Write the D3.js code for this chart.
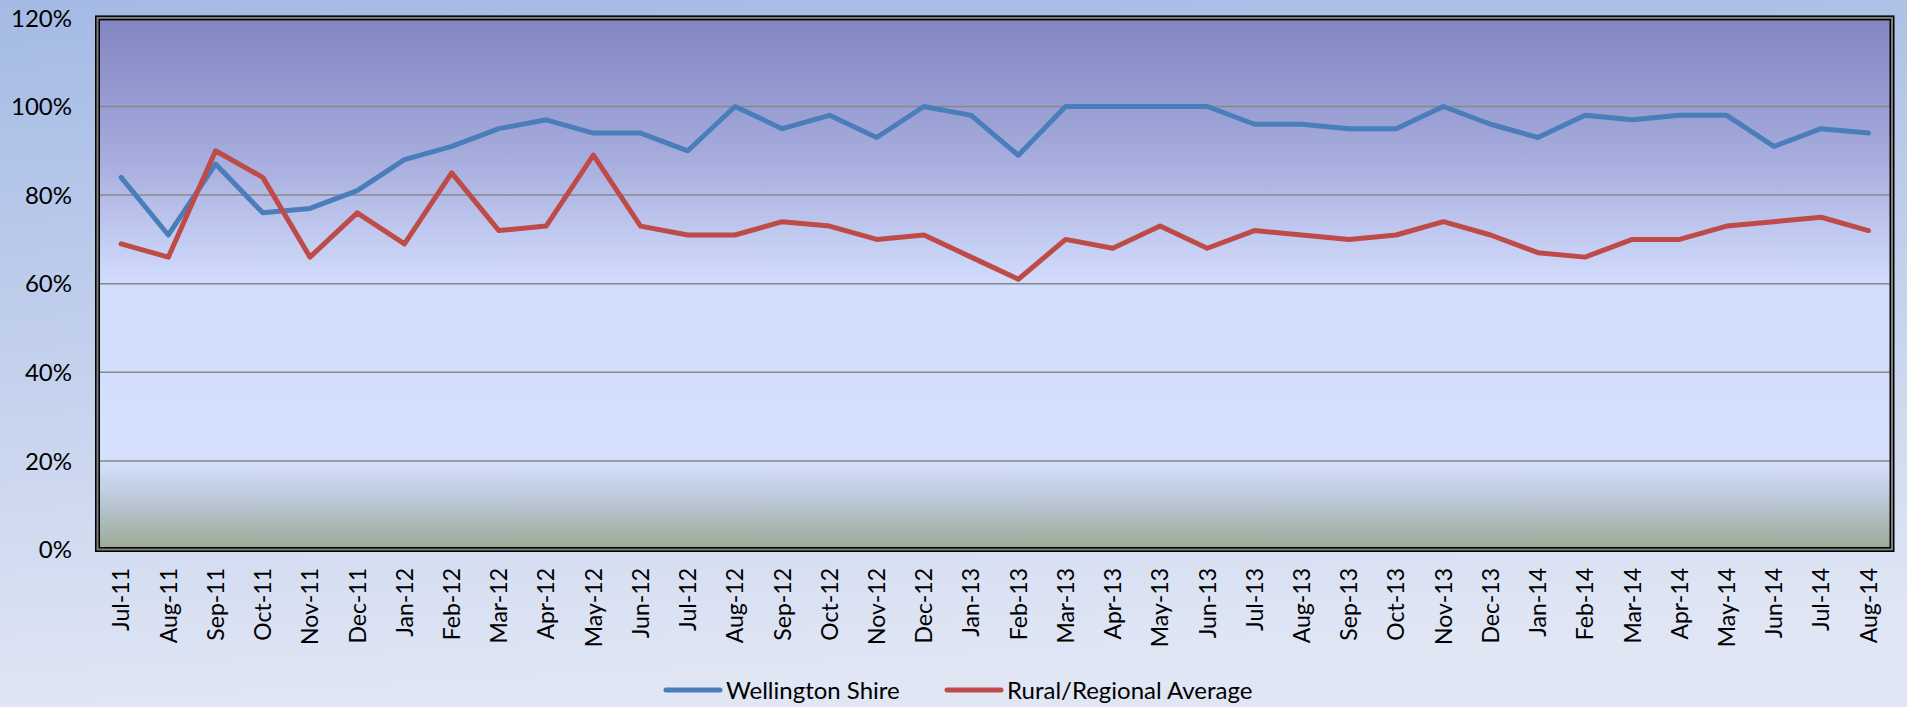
<!DOCTYPE html>
<html>
<head>
<meta charset="utf-8">
<script src="https://cdn.jsdelivr.net/npm/d3@7"></script>
<style>
    html, body { margin: 0; padding: 0; overflow: hidden; }
    svg text { font-family: Lato, "Open Sans", sans-serif; fill: #000; }
</style>
</head>
<body>
<div id="chart"></div>
<script>
// 月份
var months = ["Jul-11", "Aug-11", "Sep-11", "Oct-11", "Nov-11", "Dec-11", "Jan-12", "Feb-12", "Mar-12", "Apr-12",
    "May-12", "Jun-12", "Jul-12", "Aug-12", "Sep-12", "Oct-12", "Nov-12", "Dec-12", "Jan-13",
    "Feb-13", "Mar-13", "Apr-13", "May-13", "Jun-13", "Jul-13", "Aug-13", "Sep-13", "Oct-13",
    "Nov-13", "Dec-13", "Jan-14", "Feb-14", "Mar-14", "Apr-14", "May-14", "Jun-14", "Jul-14", "Aug-14"];

// 百分比
var wellington = [84, 71, 87, 76, 77, 81, 88, 91, 95, 97,
    94, 94, 90, 100, 95, 98, 93, 100, 98,
    89, 100, 100, 100, 100, 96, 96, 95, 95,
    100, 96, 93, 98, 97, 98, 98, 91, 95, 94];
var rural = [69, 66, 90, 84, 66, 76, 69, 85, 72, 73,
    89, 73, 71, 71, 74, 73, 70, 71, 66,
    61, 70, 68, 73, 68, 72, 71, 70, 71,
    74, 71, 67, 66, 70, 70, 73, 74, 75, 72];

var yTicks = [0, 20, 40, 60, 80, 100, 120];
var seriesNames = ["Wellington Shire", "Rural/Regional Average"];
var seriesColors = ["#4a7ebb", "#be4b48"];

var W = 1907, H = 707;
var area = { x0: 97.5, x1: 1892, y0: 17.9, y1: 549.5 };

var svg = d3.select("#chart").append("svg")
    .attr("xmlns", "http://www.w3.org/2000/svg")
    .attr("width", W).attr("height", H);

var defs = svg.append("defs");

// 背景渐变
var bg = defs.append("linearGradient").attr("id", "bgGrad")
    .attr("x1", 0).attr("y1", 0).attr("x2", 0.15).attr("y2", 1);
bg.append("stop").attr("offset", 0).attr("stop-color", "#a4bae5");
bg.append("stop").attr("offset", 0.55).attr("stop-color", "#c6d3ee");
bg.append("stop").attr("offset", 1).attr("stop-color", "#e0e6f4");

// 绘图区渐变
var pg = defs.append("linearGradient").attr("id", "plotGrad")
    .attr("x1", 0).attr("y1", 0).attr("x2", 0).attr("y2", 1);
[[0, "#8385c2"], [0.25, "#a4aadb"], [0.5, "#d2dcfc"], [0.835, "#d5dffe"], [0.92, "#b7c4d0"], [1, "#98aa93"]]
    .forEach(function(s) {
        pg.append("stop").attr("offset", s[0]).attr("stop-color", s[1]);
    });

svg.append("rect").attr("width", W).attr("height", H).attr("fill", "url(#bgGrad)");

var xScale = d3.scaleBand().domain(months).range([area.x0, area.x1]);
var yScale = d3.scaleLinear().domain([0, 120]).range([area.y1, area.y0]);
var cx = function(d) { return xScale(d) + xScale.bandwidth() / 2; };

svg.append("rect")
    .attr("x", area.x0).attr("y", area.y0)
    .attr("width", area.x1 - area.x0).attr("height", area.y1 - area.y0)
    .attr("fill", "url(#plotGrad)");

// 网格线
svg.append("g").attr("class", "grid")
    .selectAll("line")
    .data(yTicks.filter(function(d) { return d > 0 && d < 120; }))
    .enter()
    .append("line")
    .attr("x1", area.x0).attr("x2", area.x1)
    .attr("y1", d => yScale(d)).attr("y2", d => yScale(d))
    .attr("stroke", "#878787")
    .attr("stroke-width", 1.5);

// y轴标签
svg.append("g").attr("class", "y-labels")
    .selectAll("text")
    .data(yTicks)
    .enter()
    .append("text")
    .attr("x", 72)
    .attr("y", d => yScale(d))
    .attr("dy", "0.36em")
    .attr("text-anchor", "end")
    .style("font-size", "24px")
    .text(d => d + "%");

// x轴标签
svg.append("g").attr("class", "x-labels")
    .selectAll("text")
    .data(months)
    .enter()
    .append("text")
    .attr("transform", d => "translate(" + cx(d) + ",568) rotate(-90)")
    .attr("dy", "0.36em")
    .attr("text-anchor", "end")
    .style("font-size", "23px")
    .text(d => d);

// 折线
var line = d3.line()
    .x(function(d, i) { return cx(months[i]); })
    .y(function(d) { return yScale(d); });

[wellington, rural].forEach(function(values, i) {
    svg.append("path")
        .datum(values)
        .attr("d", line)
        .attr("fill", "none")
        .attr("stroke", seriesColors[i])
        .attr("stroke-width", 5)
        .attr("stroke-linejoin", "round")
        .attr("stroke-linecap", "round");
});

// 边框 (双线)
svg.append("rect")
    .attr("x", area.x0).attr("y", area.y0)
    .attr("width", area.x1 - area.x0).attr("height", area.y1 - area.y0)
    .attr("fill", "none").attr("stroke", "#000").attr("stroke-width", 5);
svg.append("rect")
    .attr("x", area.x0).attr("y", area.y0)
    .attr("width", area.x1 - area.x0).attr("height", area.y1 - area.y0)
    .attr("fill", "none").attr("stroke", "#7f7f7f").attr("stroke-width", 2);

// 图例
var legendX = [666, 947];
var legend = svg.append("g").attr("class", "legend");
seriesNames.forEach(function(name, i) {
    legend.append("line")
        .attr("x1", legendX[i]).attr("x2", legendX[i] + 54)
        .attr("y1", 690).attr("y2", 690)
        .attr("stroke", seriesColors[i])
        .attr("stroke-width", 5)
        .attr("stroke-linecap", "round");
    legend.append("text")
        .attr("x", legendX[i] + 60)
        .attr("y", 690)
        .attr("dy", "0.36em")
        .style("font-size", "24px")
        .text(name);
});
</script>
</body>
</html>
